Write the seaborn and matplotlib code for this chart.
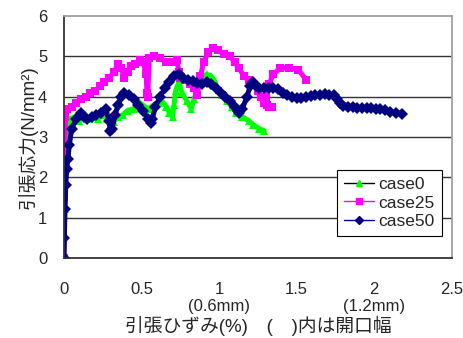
import numpy as np
import pandas as pd
import matplotlib
matplotlib.use("Agg")
import matplotlib.pyplot as plt
from matplotlib.lines import Line2D
import seaborn as sns

# strain (%) / stress (N/mm2)
case0_x = [0, 0.005, 0.01, 0.02, 0.04, 0.07, 0.10, 0.13, 0.16, 0.19,
           0.22, 0.25, 0.28, 0.32, 0.35, 0.38, 0.41, 0.45, 0.49, 0.52,
           0.55, 0.58, 0.61, 0.63, 0.66, 0.68, 0.70, 0.71, 0.72, 0.74,
           0.76, 0.79, 0.82, 0.84, 0.86, 0.89, 0.92, 0.95, 0.97, 0.99,
           1.02, 1.05, 1.08, 1.11, 1.15, 1.19, 1.22, 1.26, 1.29]
case0_y = [0, 1.2, 2.5, 3.2, 3.45, 3.5, 3.4, 3.5, 3.45, 3.5,
           3.45, 3.55, 3.45, 3.37, 3.5, 3.55, 3.65, 3.7, 3.85, 3.75,
           3.7, 3.8, 3.85, 3.9, 3.75, 3.6, 3.5, 3.8, 4.15, 4.35,
           4.1, 3.9, 3.7, 3.95, 4.2, 4.5, 4.55, 4.5, 4.4, 4.2,
           4.05, 3.9, 3.75, 3.6, 3.5, 3.4, 3.3, 3.2, 3.15]

case25_x = [0, 0.003, 0.006, 0.01, 0.02, 0.05, 0.08, 0.11, 0.14, 0.17,
            0.20, 0.23, 0.26, 0.29, 0.32, 0.35, 0.37, 0.39, 0.41, 0.43,
            0.46, 0.49, 0.51, 0.53, 0.535, 0.54, 0.55, 0.58, 0.62, 0.66,
            0.70, 0.73, 0.74, 0.75, 0.78, 0.81, 0.84, 0.86, 0.88, 0.90,
            0.93, 0.96, 0.99, 1.03, 1.07, 1.10, 1.13, 1.16, 1.19, 1.22,
            1.25, 1.27, 1.29, 1.32, 1.34, 1.31, 1.30, 1.32, 1.35, 1.39,
            1.45, 1.51, 1.56]
case25_y = [0, 1.5, 2.8, 3.5, 3.7, 3.75, 3.85, 3.95, 4.0, 4.1,
            4.15, 4.25, 4.35, 4.45, 4.6, 4.8, 4.7, 4.45, 4.6, 4.75,
            4.8, 4.9, 4.85, 4.55, 4.1, 4.0, 4.95, 5.0, 4.95, 4.85,
            4.85, 4.9, 4.6, 4.45, 4.4, 4.3, 4.2, 4.05, 4.5, 4.85,
            5.1, 5.2, 5.15, 5.05, 5.0, 4.85, 4.7, 4.5, 4.4, 4.3,
            4.15, 4.0, 3.85, 3.75, 3.75, 3.8, 4.0, 4.3, 4.55, 4.7,
            4.72, 4.67, 4.42]

case50_x = [0, 0.003, 0.007, 0.012, 0.018, 0.026, 0.035, 0.05, 0.08, 0.11,
            0.13, 0.15, 0.18, 0.21, 0.24, 0.27, 0.29, 0.30, 0.31, 0.33,
            0.35, 0.37, 0.39, 0.42, 0.45, 0.48, 0.51, 0.54, 0.56, 0.57,
            0.59, 0.62, 0.65, 0.68, 0.71, 0.74, 0.77, 0.80, 0.83, 0.86,
            0.89, 0.92, 0.95, 0.98, 1.01, 1.04, 1.07, 1.10, 1.12, 1.13,
            1.15, 1.18, 1.20, 1.22, 1.24, 1.26, 1.29, 1.32, 1.35, 1.38,
            1.41, 1.44, 1.47, 1.50, 1.53, 1.56, 1.59, 1.62, 1.65, 1.68,
            1.71, 1.74, 1.76, 1.78, 1.80, 1.83, 1.86, 1.89, 1.92, 1.95,
            1.98, 2.01, 2.04, 2.07, 2.10, 2.14, 2.18]
case50_y = [0, 0.5, 1.2, 1.8, 2.2, 2.45, 2.8, 3.2, 3.45, 3.6,
            3.5, 3.45, 3.5, 3.55, 3.6, 3.7, 3.4, 3.15, 3.2, 3.55,
            3.8, 4.0, 4.1, 4.05, 3.95, 3.8, 3.65, 3.45, 3.35, 3.45,
            3.75, 4.0, 4.2, 4.35, 4.5, 4.55, 4.45, 4.4, 4.38, 4.33,
            4.3, 4.37, 4.3, 4.2, 4.1, 4.0, 3.9, 3.75, 3.65, 3.6,
            3.7, 4.0, 4.25, 4.37, 4.25, 4.2, 4.2, 4.22, 4.2, 4.18,
            4.1, 4.05, 4.0, 3.97, 3.97, 4.0, 4.02, 4.03, 4.05, 4.06,
            4.05, 4.03, 3.95, 3.85, 3.77, 3.75, 3.73, 3.72, 3.72, 3.72,
            3.72, 3.7, 3.69, 3.66, 3.62, 3.6, 3.57]

case_names = ["case0", "case25", "case50"]
x_ticks = [0, 0.5, 1, 1.5, 2, 2.5]
x_tick_labels = ["0", "0.5", "1\n(0.6mm)", "1.5", "2\n(1.2mm)", "2.5"]
y_ticks = [0, 1, 2, 3, 4, 5, 6]

colors = {"case0": "#00ff00", "case25": "#ff00ff", "case50": "#000080"}
markers = {"case0": "^", "case25": "s", "case50": "D"}

df = pd.concat([
    pd.DataFrame({"strain": case0_x, "stress": case0_y, "case": "case0"}),
    pd.DataFrame({"strain": case25_x, "stress": case25_y, "case": "case25"}),
    pd.DataFrame({"strain": case50_x, "stress": case50_y, "case": "case50"}),
], ignore_index=True)

sns.set_style("white")
plt.rcParams["font.family"] = ["Liberation Sans", "Noto Sans CJK JP"]

fig = plt.figure(figsize=(4.63, 3.38), dpi=100)
ax = fig.add_axes([0.138, 0.237, 0.838, 0.716])

sns.lineplot(data=df, x="strain", y="stress", hue="case", style="case",
             palette=colors, markers=markers, dashes=False, sort=False,
             estimator=None, linewidth=3.6, markersize=6, markeredgewidth=0,
             legend=False, ax=ax)

ax.set_xlim(0, 2.5)
ax.set_ylim(0, 6)
ax.set_xticks(x_ticks)
ax.set_xticklabels(x_tick_labels, linespacing=1.2)
ax.set_yticks(y_ticks)
ax.tick_params(axis="both", direction="in", length=5, width=1, color="#333333",
               labelsize=12)
ax.tick_params(axis="x", pad=17)
ax.tick_params(axis="y", pad=12)

for y in y_ticks[1:-1]:
    ax.axhline(y, color="#333333", linewidth=1, zorder=0)

ax.spines["left"].set_color("#333333")
ax.spines["bottom"].set_color("#333333")
ax.spines["top"].set_color("#a0a0a0")
ax.spines["right"].set_color("#a0a0a0")
for s in ax.spines.values():
    s.set_linewidth(1.3)

ax.set_xlabel("引張ひずみ(%)　(　)内は開口幅", fontsize=13.5, labelpad=1)
ax.set_ylabel("引張応力(N/mm²)", fontsize=13.5, labelpad=0)

handles = [
    Line2D([], [], color="black", lw=1, marker="^", markerfacecolor="#00ff00",
           markeredgecolor="#00ff00", markersize=5),
    Line2D([], [], color="#ff00ff", lw=1, marker="s", markerfacecolor="#ff00ff",
           markeredgecolor="#ff00ff", markersize=4),
    Line2D([], [], color="#000080", lw=1, marker="D", markerfacecolor="#000080",
           markeredgecolor="#000080", markersize=4),
]
leg = ax.legend(handles, case_names, loc="upper left", bbox_to_anchor=(0.704, 0.364),
                borderaxespad=0, fontsize=12.5, frameon=True, fancybox=False,
                framealpha=1, edgecolor="black", handlelength=1.7,
                handletextpad=0.3, labelspacing=0.2, borderpad=0.4)
leg.get_frame().set_linewidth(0.8)

fig.savefig("out.png", dpi=100)
